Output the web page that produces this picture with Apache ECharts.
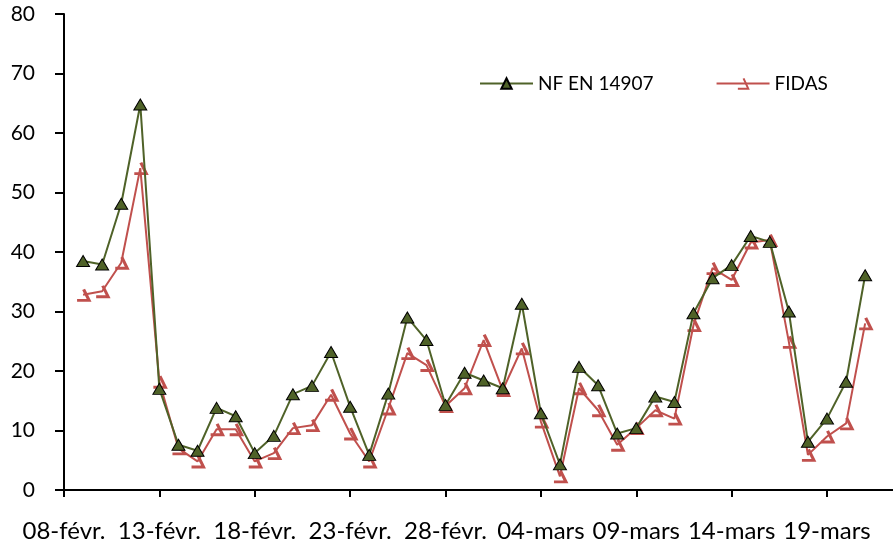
<!DOCTYPE html>
<html>
<head>
<meta charset="utf-8">
<script src="https://cdn.jsdelivr.net/npm/echarts@6/dist/echarts.min.js"></script>
<style>html,body{margin:0;padding:0;background:#fff}#c{width:893px;height:549px}</style>
</head>
<body>
<div id="c"></div>
<script>
// Axis origin date and tick labels (every 5 days)
const startDate = '2016-02-08';
const tickLabels = ['08-févr.', '13-févr.', '18-févr.', '23-févr.', '28-févr.', '04-mars', '09-mars', '14-mars', '19-mars'];
// Daily measurement dates
const dates = [
  '2016-02-09','2016-02-10','2016-02-11','2016-02-12','2016-02-13','2016-02-14','2016-02-15','2016-02-16','2016-02-17','2016-02-18',
  '2016-02-19','2016-02-20','2016-02-21','2016-02-22','2016-02-23','2016-02-24','2016-02-25','2016-02-26','2016-02-27','2016-02-28',
  '2016-02-29','2016-03-01','2016-03-02','2016-03-03','2016-03-04','2016-03-05','2016-03-06','2016-03-07','2016-03-08','2016-03-09',
  '2016-03-10','2016-03-11','2016-03-12','2016-03-13','2016-03-14','2016-03-15','2016-03-16','2016-03-17','2016-03-18','2016-03-19',
  '2016-03-20','2016-03-21','2016-03-22'
].slice(0, 42);
const nfEn14907 = [38.5, 37.9, 48.1, 64.8, 17.0, 7.6, 6.6, 13.8, 12.4, 6.2,
  9.1, 16.1, 17.5, 23.2, 14.0, 5.9, 16.2, 29.0, 25.2, 14.3,
  19.7, 18.4, 17.1, 31.3, 12.9, 4.3, 20.7, 17.6, 9.5, 10.4,
  15.7, 14.8, 29.7, 35.6, 37.8, 42.7, 41.7, 30.0, 8.1, 12.0,
  18.2, 36.1];
const fidas = [32.8, 33.4, 38.2, 54.1, 18.2, 7.0, 4.8, 10.2, 10.2, 4.8,
  6.2, 10.4, 10.9, 16.0, 9.5, 4.8, 13.7, 23.0, 21.0, 14.1,
  17.1, 25.2, 16.8, 23.8, 11.5, 2.3, 17.1, 13.4, 7.6, 10.4,
  13.4, 12.0, 27.7, 37.3, 35.3, 41.6, 42.0, 24.9, 5.9, 9.0,
  11.2, 28.0];

const DAY = 86400000;
const t0 = Date.parse(startDate + 'T00:00:00Z');
const dayOf = d => Math.round((Date.parse(d + 'T00:00:00Z') - t0) / DAY);
const tickValues = tickLabels.map((_, i) => i * 5);

const FONT = 'Lato';
const chart = echarts.init(document.getElementById('c'), null, {renderer: 'canvas'});
chart.setOption({
  animation: false,
  backgroundColor: '#ffffff',
  textStyle: {fontFamily: FONT},
  grid: {left: 64, right: 0, top: 14, bottom: 59, containLabel: false},
  legend: {
    left: 474, top: 69,
    itemWidth: 53, itemHeight: 13, itemGap: 62,
    textStyle: {fontFamily: FONT, fontSize: 19, color: '#000'},
    data: ['NF EN 14907', 'FIDAS']
  },
  xAxis: {
    type: 'value', min: 0, max: 43.46,
    splitLine: {show: false},
    axisLine: {lineStyle: {color: '#000', width: 2}},
    axisTick: {show: true, length: 7, lineStyle: {color: '#000', width: 2}, customValues: tickValues},
    axisLabel: {
      customValues: tickValues,
      margin: 29, fontSize: 24, color: '#000', fontFamily: FONT,
      formatter: v => tickLabels[Math.round(v / 5)] || ''
    }
  },
  yAxis: {
    type: 'value', min: 0, max: 80, interval: 10,
    splitLine: {show: false},
    axisLine: {show: true, lineStyle: {color: '#000', width: 2}},
    axisTick: {show: true, length: 9, lineStyle: {color: '#000', width: 2}},
    axisLabel: {margin: 29, fontSize: 21, color: '#000', fontFamily: FONT}
  },
  series: [
    {
      name: 'NF EN 14907', type: 'line',
      data: dates.map((d, i) => [dayOf(d), nfEn14907[i]]),
      symbol: 'triangle', symbolSize: [13, 11],
      lineStyle: {color: '#4F6228', width: 2},
      itemStyle: {color: '#4F6228', borderColor: '#000', borderWidth: 1},
      z: 3
    },
    {
      name: 'FIDAS', type: 'line',
      data: dates.map((d, i) => [dayOf(d), fidas[i]]),
      symbol: 'path://M6,0 L11,11 L0,11', symbolSize: [12, 11],
      lineStyle: {color: '#C0504D', width: 2},
      itemStyle: {color: 'rgba(0,0,0,0)', borderColor: '#C0504D', borderWidth: 3},
      z: 2
    }
  ]
});
</script>
</body>
</html>
